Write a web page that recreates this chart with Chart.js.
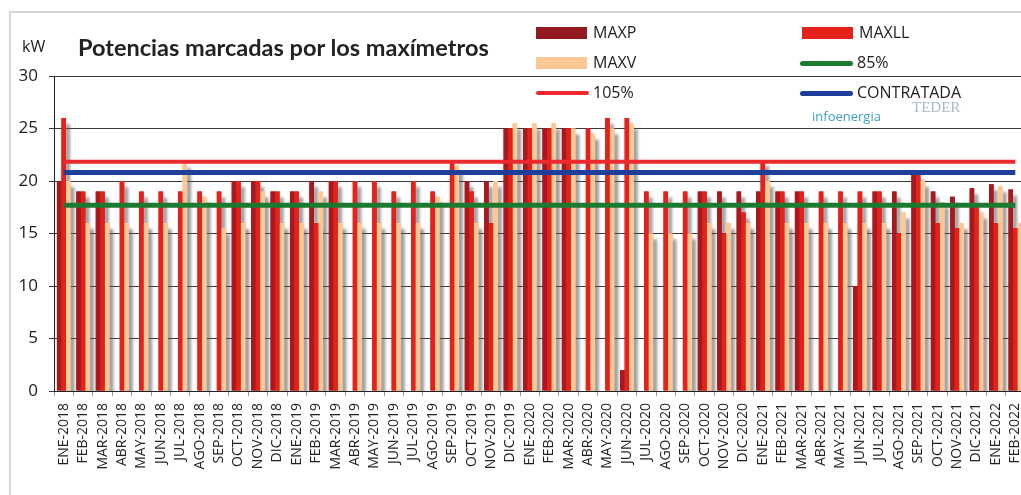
<!DOCTYPE html>
<html><head><meta charset="utf-8">
<script src="https://cdn.jsdelivr.net/npm/chart.js@4.4.1/dist/chart.umd.min.js"></script>
<style>
html,body{margin:0;padding:0;background:#fff;width:1021px;height:495px;overflow:hidden;position:relative;font-family:'Open Sans',sans-serif;}
#wrap{position:absolute;left:0;top:0;width:1026px;height:495px;}
#frame{position:absolute;left:9px;top:11px;width:1030px;height:500px;border-left:2px solid #d6d6d6;border-top:2px solid #d6d6d6;}
.t{position:absolute;white-space:nowrap;color:#222;line-height:1;}
.sw{position:absolute;}
</style></head><body>
<div id="frame"></div>
<div id="wrap"><canvas id="c" width="1026" height="495"></canvas></div>
<div class="t" style="left:22px;top:38px;font-size:16px;">kW</div>
<div class="t" style="left:78px;top:36px;font-size:23.5px;font-weight:bold;font-family:Lato,'Open Sans',sans-serif;">Potencias marcadas por los maxímetros</div>
<div class="t" style="left:812px;top:110px;font-size:13px;color:#3d9fc4;">infoenergia</div>
<div class="t" style="left:912px;top:100px;font-size:15px;color:#aab8c8;font-family:'Liberation Serif',serif;">TEDER</div>
<div id="legend"></div>
<script>
// ---- data ----
const categories = ["ENE-2018","FEB-2018","MAR-2018","ABR-2018","MAY-2018","JUN-2018","JUL-2018","AGO-2018","SEP-2018","OCT-2018","NOV-2018","DIC-2018",
"ENE-2019","FEB-2019","MAR-2019","ABR-2019","MAY-2019","JUN-2019","JUL-2019","AGO-2019","SEP-2019","OCT-2019","NOV-2019","DIC-2019",
"ENE-2020","FEB-2020","MAR-2020","ABR-2020","MAY-2020","JUN-2020","JUL-2020","AGO-2020","SEP-2020","OCT-2020","NOV-2020","DIC-2020",
"ENE-2021","FEB-2021","MAR-2021","ABR-2021","MAY-2021","JUN-2021","JUL-2021","AGO-2021","SEP-2021","OCT-2021","NOV-2021","DIC-2021",
"ENE-2022","FEB-2022"];
const maxp  = [20,19,19,0,0,0,0,0,0,20,20,19, 19,20,20,0,0,0,0,0,0,20,20,25, 25,25,25,0,0,2,0,0,0,19,19,19, 19,19,19,0,0,10,19,19,20.7,19,18.5,19.3, 19.7,19.2];
const maxll = [26,19,19,20,19,19,19,19,19,20,20,19, 19,16,20,20,20,19,20,19,21.7,19,16,25, 25,25,25,25,26,26,19,19,19,19,15,17, 22,19,19,19,19,19,19,15,20.7,16,15.5,17.5, 16,15.5];
const maxv  = [20,16,16,16,16,16,21.8,18.5,15.5,16,19,16, 16,19,16,16,16,16,16,18.5,21.5,16,20,25.5, 25.5,25.5,25,24.5,25,25.5,15,15,15,16,16,16, 20,16,16,16,16,16,16,17,20,18,16,17, 19.5,16];
const contratada = 20.8;
const p85 = 17.68;
const p105 = 21.84;
const yTicks = [0,5,10,15,20,25,30];

const last = categories.length - 1;
const flat = v => [{x: categories[0], y: v}, {x: categories[last], y: v}];

const datasets = [
  {label:'MAXP', data:maxp, backgroundColor:'#a8181d', order:1, kind:'box', legendColor:'#931a1f'},
  {label:'MAXLL', data:maxll, backgroundColor:'#e4211b', order:2, kind:'box'},
  {label:'MAXV', data:maxv, backgroundColor:'#fdc893', order:3, kind:'box'},
  {type:'line', label:'85%', data:flat(p85), borderColor:'#1b7a30', borderWidth:5, pointRadius:0, order:0, kind:'line'},
  {type:'line', label:'105%', data:flat(p105), borderColor:'#ec2a2d', borderWidth:4, pointRadius:0, order:0, kind:'line'},
  {type:'line', label:'CONTRATADA', data:flat(contratada), borderColor:'#1d3f99', borderWidth:5, pointRadius:0, order:0, kind:'line'}
];

// 3D-like drop shadow: pre-draw bars with a shadow, the normal pass paints over them
const shadowPlugin = {
  id:'shadow',
  beforeDatasetsDraw(chart){
    const ctx = chart.ctx, a = chart.chartArea;
    ctx.save();
    ctx.beginPath(); ctx.rect(a.left, a.top, a.right - a.left, a.bottom - a.top); ctx.clip();
    ctx.shadowColor = 'rgba(90,90,90,0.6)';
    ctx.shadowOffsetX = 4; ctx.shadowOffsetY = 6; ctx.shadowBlur = 3;
    chart.getSortedVisibleDatasetMetas().forEach(m=>{
      if (m.type === 'bar') m.data.forEach(el=>el.draw(ctx));
    });
    ctx.restore();
  }
};

const chart = new Chart(document.getElementById('c'), {
  type:'bar',
  data:{labels:categories, datasets:datasets},
  plugins:[shadowPlugin],
  options:{
    responsive:false, animation:false, devicePixelRatio:1,
    layout:{padding:{left:0,right:1,top:76,bottom:0}},
    datasets:{bar:{categoryPercentage:0.7, barPercentage:1.0}},
    plugins:{legend:{display:false}, tooltip:{enabled:false}},
    scales:{
      x:{
        offset:true,
        grid:{display:true, drawOnChartArea:false, drawTicks:true, tickLength:5, color:'#999', offset:true},
        border:{display:true, color:'#222', width:1},
        ticks:{autoSkip:false, maxRotation:90, minRotation:90, padding:7, color:'#222', font:{family:'Open Sans', size:14}},
        afterFit:s=>{s.height=104; s.paddingLeft=0; s.paddingRight=0;}
      },
      y:{
        min:0, max:30,
        afterBuildTicks:s=>{s.ticks = yTicks.map(v=>({value:v}));},
        grid:{color:'#3a3a3a', tickLength:5, lineWidth:1},
        border:{display:true, color:'#222', width:1},
        ticks:{color:'#222', padding:11, font:{family:'Open Sans', size:17}},
        afterFit:s=>{s.width=54;}
      }
    }
  }
});

// legend (HTML) built from the datasets
const legendSlots = [[536,33],[802,33],[536,63],[800,63],[536,93],[800,93]];
const legendOrder = ['MAXP','MAXLL','MAXV','85%','105%','CONTRATADA'];
const lg = document.getElementById('legend');
legendOrder.forEach((name,i)=>{
  const ds = datasets.find(d=>d.label===name);
  const [x,y] = legendSlots[i];
  const sw = document.createElement('div'); sw.className='sw';
  if (ds.kind==='box'){
    sw.style.cssText=`left:${x}px;top:${y-6}px;width:51px;height:12px;background:${ds.legendColor||ds.backgroundColor};`;
  } else {
    const h = ds.borderWidth;
    sw.style.cssText=`left:${x}px;top:${y-h/2}px;width:53px;height:${h}px;border-radius:${h/2}px;background:${ds.borderColor};`;
  }
  lg.appendChild(sw);
  const t = document.createElement('div'); t.className='t';
  t.textContent = name;
  t.style.cssText += `left:${x+57}px;top:${y-9}px;font-size:16px;`;
  lg.appendChild(t);
});
</script>
</body></html>
